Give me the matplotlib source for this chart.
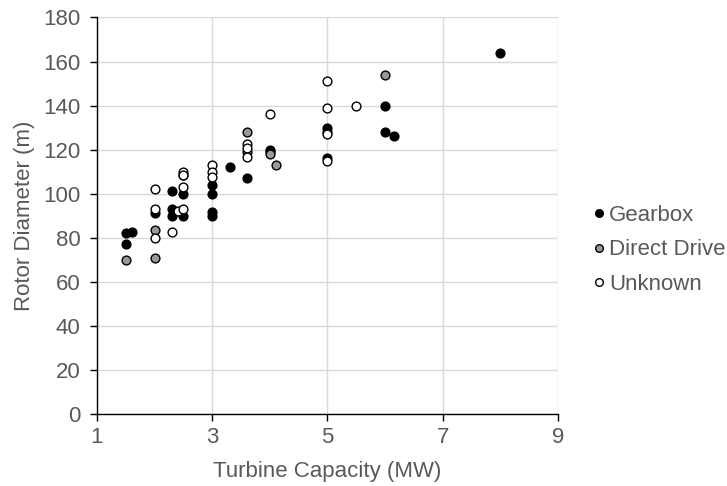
import matplotlib
matplotlib.use("Agg")
import matplotlib.pyplot as plt
from matplotlib.lines import Line2D

plt.rcParams['font.family'] = ['Liberation Sans', 'DejaVu Sans']

gear_x = [1.5, 1.6, 1.5, 2.0, 2.3, 2.3, 2.3, 2.5, 2.5, 2.5, 3.0, 3.0, 3.0, 3.0, 3.3, 3.6, 4.0, 4.0, 5.0, 5.0, 5.0, 6.0, 6.0, 6.15, 8.0]
gear_y = [82, 82.5, 77, 91, 101, 93, 90, 100, 90, 108.5, 104, 100, 91.5, 90, 112, 107, 120, 119, 130, 128, 116, 140, 128, 126, 164]

dd_x = [1.5, 2.0, 2.0, 3.6, 3.6, 4.0, 4.1, 6.0]
dd_y = [70, 70.5, 83.5, 128, 119, 118, 113, 154]

unk_x = [2.0, 2.0, 2.0, 2.3, 2.4, 2.5, 2.5, 2.5, 2.5, 3.0, 3.0, 3.0, 3.6, 3.6, 3.6, 4.0, 5.0, 5.0, 5.0, 5.0, 5.5]
unk_y = [80, 93, 102, 82.5, 92, 110, 108.5, 103, 93, 113, 110, 107.5, 122.5, 120.5, 116.5, 136, 151, 139, 127, 115, 140]

series_names = ["Gearbox", "Direct Drive", "Unknown"]
series_colors = ["#000000", "#999999", "#ffffff"]

x_ticks = [1, 3, 5, 7, 9]
y_ticks = list(range(0, 181, 20))

text_color = "#595959"
fs = 16

fig = plt.figure(figsize=(7.27, 4.86), dpi=100)
ax = fig.add_axes([0.1334, 0.149, 0.6341, 0.815])

data = [(gear_x, gear_y), (dd_x, dd_y), (unk_x, unk_y)]
for (xs, ys), name, col in zip(data, series_names, series_colors):
    ax.scatter(xs, ys, s=40, c=col, edgecolors="black", linewidths=1.0, zorder=3, label=name)

ax.set_xlim(1, 9)
ax.set_ylim(0, 180)
ax.set_xticks(x_ticks)
ax.set_yticks(y_ticks)
ax.grid(True, color="#d9d9d9", linewidth=1.0, zorder=0)
ax.set_axisbelow(True)
for side in ["top", "right"]:
    ax.spines[side].set_visible(False)
for side in ["left", "bottom"]:
    ax.spines[side].set_color("black")
    ax.spines[side].set_linewidth(1.0)
ax.tick_params(axis="both", colors="black", labelcolor=text_color, labelsize=fs, length=5, width=1.0)
ax.tick_params(axis="y", pad=7)
ax.tick_params(axis="x", pad=5)
ax.set_xlabel("Turbine Capacity (MW)", color=text_color, fontsize=fs, labelpad=9)
ax.set_ylabel("Rotor Diameter (m)", color=text_color, fontsize=fs, labelpad=6)

handles = [Line2D([0], [0], marker="o", linestyle="none", markerfacecolor=c, markeredgecolor="black",
                  markeredgewidth=1.0, markersize=5.5) for c in series_colors]
leg = fig.legend(handles, series_names, loc="center left", bbox_to_anchor=(0.79, 0.486),
                 frameon=False, fontsize=fs, handletextpad=0.05, labelspacing=0.62, handlelength=0.8,
                 borderpad=0.2)
for t in leg.get_texts():
    t.set_color(text_color)

fig.savefig("out.png", dpi=100)
